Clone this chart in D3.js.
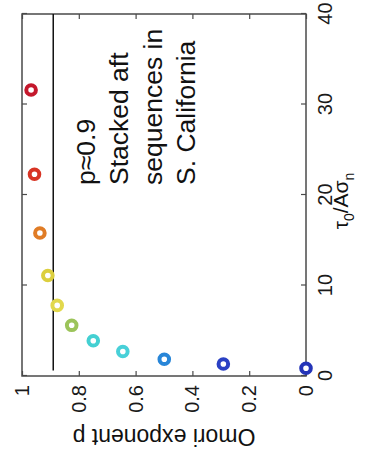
<!DOCTYPE html>
<html>
<head>
<meta charset="utf-8">
<script src="https://cdn.jsdelivr.net/npm/d3@7"></script>
<style>
  html, body { margin: 0; padding: 0; background: #fff; }
  svg { display: block; font-family: "Liberation Sans", Arial, Helvetica, sans-serif; }
</style>
</head>
<body>
<svg width="365" height="458"></svg>
<script>
// Data (tau0/A sigma_n vs Omori exponent p)
const tauValues = [31.6, 22.3, 15.8, 11.1, 7.8, 5.6, 3.9, 2.7, 1.85, 1.33, 0.85];
const pValues   = [0.968, 0.956, 0.937, 0.909, 0.876, 0.825, 0.749, 0.645, 0.499, 0.291, 0.0];
const pointColors = ["#c4182c", "#d83424", "#e07c26", "#dccf3e", "#e2d84c", "#9cc45a",
                     "#44d0d2", "#48d0d8", "#2886d8", "#2a40c4", "#2434b8"];

const tauTicks = [0, 10, 20, 30, 40];
const pTicks = [0, 0.2, 0.4, 0.6, 0.8, 1];
const refP = 0.89;
const refTau = [0.6, 40];
const noteLines = ["p\u22480.9", "Stacked aft", "sequences in", "S. California"];

// The figure is drawn in its normal frame and then turned 90 degrees
const svg = d3.select("svg");
const w = 362, h = 284;
const g = svg.append("g").attr("transform", "translate(22,376) rotate(-90)");

const x = d3.scaleLinear().domain([0, 40]).range([0, w]);
const y = d3.scaleLinear().domain([0, 1]).range([h, 0]);

const axisColor = "#4a4a4a";

// axes, ticks inward like matlab
g.append("g").attr("transform", `translate(0,${h})`)
    .call(d3.axisBottom(x).tickValues(tauTicks).tickSizeInner(-5).tickSizeOuter(0).tickPadding(12));
g.append("g")
    .call(d3.axisTop(x).tickValues(tauTicks).tickSizeInner(-5).tickSizeOuter(0).tickFormat(""));
g.append("g")
    .call(d3.axisLeft(y).tickValues(pTicks).tickSizeInner(-5).tickSizeOuter(0).tickPadding(9).tickFormat(d3.format("~g")));
g.append("g").attr("transform", `translate(${w},0)`)
    .call(d3.axisRight(y).tickValues(pTicks).tickSizeInner(-5).tickSizeOuter(0).tickFormat(""));

g.selectAll(".domain").remove();
g.selectAll(".tick line").attr("stroke", axisColor).attr("stroke-width", 1.2);
g.selectAll(".tick text").attr("font-size", 20).attr("fill", "#1a1a1a")
    .attr("font-family", "Liberation Sans, Arial, sans-serif");

g.append("rect")
    .attr("x", 0).attr("y", 0).attr("width", w).attr("height", h)
    .attr("fill", "none").attr("stroke", axisColor).attr("stroke-width", 1.5);

// reference line p ~ 0.9
g.append("line")
    .attr("x1", x(refTau[0])).attr("x2", x(refTau[1]))
    .attr("y1", y(refP)).attr("y2", y(refP))
    .attr("stroke", "#111").attr("stroke-width", 1.5);

// points
const pts = tauValues.map((t, i) => ({ tau: t, p: pValues[i], c: pointColors[i] }));
g.append("g").selectAll("circle")
    .data(pts)
    .enter().append("circle")
    .attr("cx", d => x(d.tau))
    .attr("cy", d => y(d.p))
    .attr("r", 4.8)
    .attr("fill", "#fff")
    .attr("stroke", d => d.c)
    .attr("stroke-width", 4);

// annotation
g.append("g").selectAll("text")
    .data(noteLines)
    .enter().append("text")
    .attr("x", 191)
    .attr("y", (d, i) => 73 + i * 33.3)
    .attr("font-size", 26.5)
    .attr("fill", "#111")
    .text(d => d);

// axis labels
const xl = g.append("text")
    .attr("x", w / 2 - 6)
    .attr("y", h + 42)
    .attr("text-anchor", "middle")
    .attr("font-size", 21)
    .attr("fill", "#111");
xl.append("tspan").text("\u03c4");
xl.append("tspan").attr("font-size", 14).attr("dy", 6).text("0");
xl.append("tspan").attr("dy", -6).text("/A\u03c3");
xl.append("tspan").attr("font-size", 14).attr("dy", 6).text("n");

g.append("text")
    .attr("transform", "rotate(-90)")
    .attr("x", -h / 2)
    .attr("y", -53)
    .attr("text-anchor", "middle")
    .attr("font-size", 23)
    .attr("fill", "#111")
    .text("Omori exponent p");
</script>
</body>
</html>
